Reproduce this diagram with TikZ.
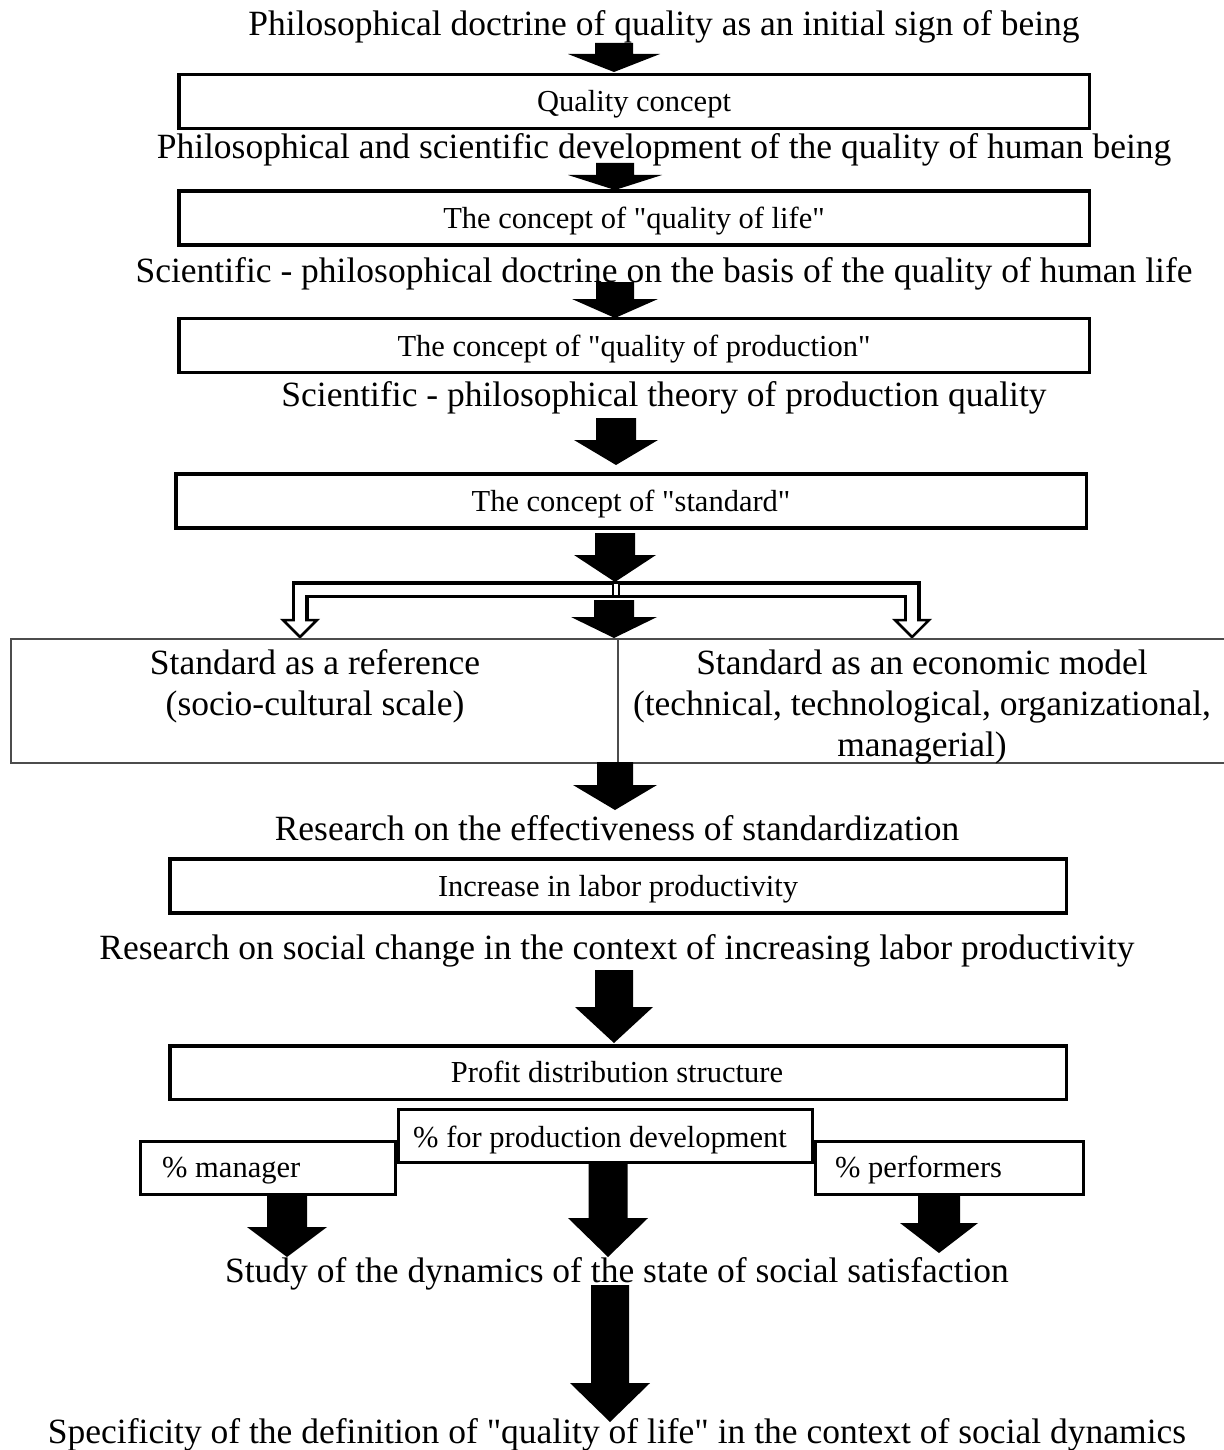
\documentclass[tikz,border=0pt]{standalone}
\usepackage{fontspec}
\setmainfont{Liberation Serif}[Ligatures=TeXOff]
\newcommand\blockarr[6]{% cx, ytop, yhead, ytip, halfshaft, halfhead
  \fill ({#1-#5},{#2}) -- ({#1+#5},{#2}) -- ({#1+#5},{#3}) -- ({#1+#6},{#3}) -- ({#1},{#4}) -- ({#1-#6},{#3}) -- ({#1-#5},{#3}) -- cycle;}
\begin{document}
\begin{tikzpicture}[x=1pt,y=-1pt,
  bigtxt/.style={font=\fontsize{35.5}{41}\selectfont, inner sep=0pt, anchor=base},
  boxtxt/.style={font=\fontsize{30.5}{34}\selectfont, inner sep=0pt, anchor=base},
  box/.style={draw, line width=3.5pt, inner sep=0pt, minimum width=910.5, minimum height=54},
  smallbox/.style={draw, line width=3pt, inner sep=0pt, fill=white, minimum height=52.5},
  cellline/.style={draw=black!70, line width=1.8pt}]
\useasboundingbox (0,0) rectangle (1223,1450);

% top chain
\node[bigtxt] (t1) at (664,36) {Philosophical doctrine of quality as an initial sign of being};
\blockarr{614}{43}{54}{72}{19}{46}
\node[box] (b1) at (634,101.5) {};
\node[boxtxt] (l1) at (634,112) {Quality concept};

\node[bigtxt] (t2) at (664,159) {Philosophical and scientific development of the quality of human being};
\blockarr{615}{163}{175}{190}{19}{47}
\node[box] (b2) at (634,218) {};
\node[boxtxt] (l2) at (634,228) {The concept of "quality of life"};

\node[bigtxt] (t3) at (664,282) {Scientific - philosophical doctrine on the basis of the quality of human life};
\blockarr{615}{282}{299}{318}{19}{43}
\node[box] (b3) at (634,345.5) {};
\node[boxtxt] (l3) at (634,356) {The concept of "quality of production"};

\node[bigtxt] (t4) at (664,406) {Scientific - philosophical theory of production quality};
\blockarr{616}{418}{440}{465}{20}{42}
\node[box] (b4) at (631,501) {};
\node[boxtxt] (l4) at (631,511) {The concept of "standard"};

\blockarr{615}{533}{555}{582}{20}{41}

% double-line bracket with open heads
\draw[line width=17pt, line join=miter] (300,621) |- (912,589.5) -- (912,621);
\foreach \hx in {300,912}{
  \draw[fill=white, line width=2.5pt, line join=miter] ({\hx-17},620) -- ({\hx+17},620) -- (\hx,637) -- cycle;
}
\draw[white, line width=10pt, line join=miter] (300,624) |- (912,589.5) -- (912,624);
\fill (611.5,584) rectangle (619.5,595);
\fill[white] (613.5,584) rectangle (617.5,595);

\blockarr{614}{600}{617}{638}{20}{43}

% two-column box
\draw[cellline] (1230,639) -- (11,639) -- (11,763) -- (1230,763);
\draw[cellline, line width=1.4pt] (618,639) -- (618,763);
\node[bigtxt] (c1a) at (315,674) {Standard as a reference};
\node[bigtxt] (c1b) at (315,715) {(socio-cultural scale)};
\node[bigtxt] (c2a) at (922,674) {Standard as an economic model};
\node[bigtxt] (c2b) at (922,715) {(technical, technological, organizational,};
\node[bigtxt] (c2c) at (922,756) {managerial)};

\blockarr{615}{762}{785}{810}{18}{42}
\node[bigtxt] (t5) at (617,840) {Research on the effectiveness of standardization};
\node[box, minimum width=896.5] (b5) at (618,886) {};
\node[boxtxt] (l5) at (618,896) {Increase in labor productivity};

\node[bigtxt] (t6) at (617,959) {Research on social change in the context of increasing labor productivity};
\blockarr{614}{970}{1007}{1043}{19}{39}
\node[box, minimum width=896.5, minimum height=53.5] (b6) at (618,1072.5) {};
\node[boxtxt] (l6) at (617,1082) {Profit distribution structure};

\node[smallbox, minimum width=254.5] (b8) at (268,1168) {};
\node[smallbox, minimum width=267.5] (b9) at (949.5,1168) {};
\node[smallbox, minimum width=413.5] (b7) at (605.5,1136) {};
\node[boxtxt] (l7) at (600,1147) {\% for production development};
\node[boxtxt, anchor=base west] (l8) at (162,1177) {\% manager};
\node[boxtxt, anchor=base west] (l9) at (835,1177) {\% performers};

\blockarr{287}{1196}{1227}{1257}{20}{40}
\blockarr{608}{1164}{1218}{1257}{19.5}{40}
\blockarr{939}{1196}{1223}{1253}{21}{39}

\node[bigtxt] (t7) at (617,1282) {Study of the dynamics of the state of social satisfaction};
\blockarr{610}{1285}{1383}{1422}{19}{40}
\node[bigtxt] (t8) at (617,1443) {Specificity of the definition of "quality of life" in the context of social dynamics};
\end{tikzpicture}
\end{document}
